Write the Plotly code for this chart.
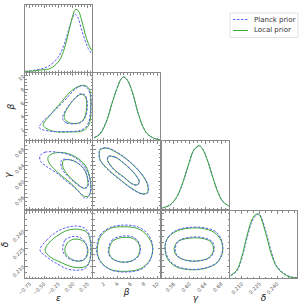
import plotly.graph_objects as go

# ---------------- data ----------------
var_names = ["ε", "β", "γ", "δ"]
var_ranges = [[-0.83, 0.33], [0.4, 10.4], [0.53, 0.70], [0.200, 0.257]]
eps_ticks = [-0.75, -0.50, -0.25, 0.00, 0.25]
eps_ticktext = ["−0.75", "−0.50", "−0.25", "0.00", "0.25"]
beta_ticks = [2, 4, 6, 8, 10]
beta_ticktext = ["2", "4", "6", "8", "10"]
gamma_ticks = [0.56, 0.60, 0.64, 0.68]
gamma_ticktext = ["0.56", "0.60", "0.64", "0.68"]
delta_ticks = [0.210, 0.225, 0.240]
delta_ticktext = ["0.210", "0.225", "0.240"]

series_names = ["Planck prior", "Local prior"]

# 1D marginals (relative density)
eps_1d_x = [-0.83, -0.686, -0.513, -0.398, -0.254, -0.167, -0.109, -0.052, 0.006, 0.035, 0.053, 0.093, 0.151, 0.209, 0.266, 0.324, 0.34]
eps_1d_planck = [0.01, 0.025, 0.055, 0.10, 0.225, 0.375, 0.525, 0.70, 0.835, 0.865, 0.855, 0.80, 0.625, 0.475, 0.35, 0.275, 0.26]
eps_1d_local = [0.005, 0.015, 0.035, 0.05, 0.15, 0.30, 0.475, 0.675, 0.865, 0.925, 0.935, 0.915, 0.775, 0.575, 0.425, 0.325, 0.31]

beta_1d_x = [0.55, 1.46, 2.47, 3.23, 3.99, 4.59, 4.99, 5.5, 6.26, 7.02, 7.78, 8.53, 9.54, 10.45]
beta_1d_planck = [0.035, 0.10, 0.30, 0.55, 0.775, 0.91, 0.94, 0.895, 0.715, 0.44, 0.212, 0.088, 0.025, 0.0]
beta_1d_local = [0.03, 0.09, 0.29, 0.545, 0.77, 0.91, 0.94, 0.90, 0.72, 0.445, 0.217, 0.09, 0.025, 0.0]

gamma_1d_x = [0.531, 0.551, 0.568, 0.585, 0.598, 0.611, 0.624, 0.632, 0.645, 0.658, 0.671, 0.684, 0.701]
gamma_1d_planck = [0.015, 0.06, 0.18, 0.42, 0.66, 0.865, 0.93, 0.895, 0.725, 0.485, 0.265, 0.115, 0.04]
gamma_1d_local = [0.015, 0.063, 0.185, 0.43, 0.67, 0.87, 0.93, 0.89, 0.72, 0.48, 0.26, 0.11, 0.04]

delta_1d_x = [0.2006, 0.2057, 0.2100, 0.2142, 0.2185, 0.2213, 0.2232, 0.2250, 0.2270, 0.2312, 0.2355, 0.2397, 0.2454, 0.2511, 0.2573]
delta_1d_planck = [0.035, 0.10, 0.29, 0.58, 0.835, 0.92, 0.95, 0.95, 0.89, 0.65, 0.37, 0.18, 0.075, 0.02, 0.005]
delta_1d_local = [0.04, 0.115, 0.315, 0.615, 0.865, 0.94, 0.955, 0.94, 0.865, 0.615, 0.34, 0.165, 0.065, 0.015, 0.005]

# 2D credible contours: (x, y) points, 95% and 68%
beta_eps_planck_95 = [(-0.582, 2.22), (-0.397, 1.71), (-0.109, 1.66), (0.122, 1.81), (0.249, 2.57), (0.307, 4.84), (0.307, 6.86), (0.237, 8.28), (0.151, 8.48), (0.036, 7.98), (-0.138, 6.36), (-0.340, 4.59), (-0.513, 3.23)]
beta_eps_local_95 = [(-0.513, 2.57), (-0.340, 1.71), (-0.051, 1.61), (0.180, 1.81), (0.284, 2.82), (0.307, 5.35), (0.284, 7.98), (0.209, 8.53), (0.122, 8.48), (-0.022, 7.77), (-0.195, 6.11), (-0.397, 4.09)]
beta_eps_planck_68 = [(-0.166, 3.33), (-0.109, 2.93), (0.007, 2.82), (0.151, 3.08), (0.226, 4.09), (0.249, 5.85), (0.209, 7.12), (0.122, 7.27), (0.007, 6.36), (-0.109, 5.10), (-0.178, 3.83)]
beta_eps_local_68 = [(-0.138, 3.43), (-0.051, 2.93), (0.093, 2.93), (0.191, 3.58), (0.237, 5.35), (0.214, 6.86), (0.139, 7.22), (0.036, 6.61), (-0.080, 5.35), (-0.149, 4.09)]

gamma_eps_planck_95 = [(-0.570, 0.663), (-0.484, 0.672), (-0.224, 0.671), (0.007, 0.661), (0.180, 0.640), (0.284, 0.611), (0.307, 0.578), (0.266, 0.560), (0.209, 0.557), (0.122, 0.570), (0.007, 0.586), (-0.109, 0.599), (-0.282, 0.620), (-0.455, 0.636), (-0.559, 0.649)]
gamma_eps_local_95 = [(-0.426, 0.661), (-0.340, 0.669), (-0.166, 0.671), (0.036, 0.661), (0.209, 0.640), (0.295, 0.607), (0.307, 0.574), (0.266, 0.562), (0.180, 0.563), (0.064, 0.580), (-0.051, 0.596), (-0.195, 0.613), (-0.340, 0.632), (-0.426, 0.649)]
gamma_eps_planck_68 = [(-0.195, 0.653), (-0.109, 0.654), (0.036, 0.649), (0.180, 0.632), (0.249, 0.611), (0.266, 0.591), (0.226, 0.582), (0.122, 0.586), (0.007, 0.599), (-0.109, 0.615), (-0.195, 0.632)]
gamma_eps_local_68 = [(-0.166, 0.651), (-0.051, 0.653), (0.093, 0.644), (0.209, 0.626), (0.255, 0.603), (0.249, 0.586), (0.180, 0.582), (0.093, 0.591), (-0.022, 0.605), (-0.120, 0.621), (-0.178, 0.638)]

gamma_beta_planck_95 = [(1.40, 0.679), (2.47, 0.683), (3.73, 0.674), (5.5, 0.654), (7.55, 0.620), (8.58, 0.591), (8.56, 0.570), (7.77, 0.567), (6.51, 0.577), (4.49, 0.602), (2.47, 0.631), (1.42, 0.653), (1.30, 0.669)]
gamma_beta_local_95 = [(1.46, 0.678), (2.47, 0.682), (3.73, 0.673), (5.5, 0.653), (7.52, 0.620), (8.53, 0.591), (8.53, 0.571), (7.77, 0.568), (6.51, 0.578), (4.49, 0.603), (2.47, 0.632), (1.46, 0.653), (1.36, 0.669)]
gamma_beta_planck_68 = [(2.68, 0.662), (3.73, 0.660), (5.0, 0.645), (6.55, 0.620), (7.32, 0.599), (7.05, 0.590), (6.26, 0.592), (5.0, 0.609), (3.73, 0.625), (2.84, 0.642), (2.54, 0.654)]
gamma_beta_local_68 = [(2.72, 0.661), (3.73, 0.659), (5.0, 0.644), (6.51, 0.620), (7.27, 0.599), (7.02, 0.591), (6.26, 0.593), (5.0, 0.610), (3.73, 0.626), (2.87, 0.643), (2.57, 0.654)]

delta_eps_planck_95 = [(-0.570, 0.2237), (-0.455, 0.2322), (-0.282, 0.2393), (-0.109, 0.2430), (0.064, 0.2442), (0.209, 0.2422), (0.295, 0.2351), (0.307, 0.2237), (0.284, 0.2137), (0.209, 0.2080), (0.064, 0.2066), (-0.109, 0.2080), (-0.282, 0.2123), (-0.455, 0.2180)]
delta_eps_local_95 = [(-0.484, 0.2237), (-0.397, 0.2308), (-0.253, 0.2365), (-0.080, 0.2408), (0.122, 0.2413), (0.249, 0.2385), (0.307, 0.2294), (0.307, 0.2180), (0.249, 0.2108), (0.122, 0.2088), (-0.051, 0.2100), (-0.224, 0.2137), (-0.397, 0.2180)]
delta_eps_planck_68 = [(-0.178, 0.2251), (-0.138, 0.2322), (-0.022, 0.2351), (0.122, 0.2345), (0.226, 0.2294), (0.249, 0.2222), (0.209, 0.2165), (0.093, 0.2145), (-0.051, 0.2160), (-0.149, 0.2200)]
delta_eps_local_68 = [(-0.138, 0.2251), (-0.080, 0.2308), (0.036, 0.2331), (0.168, 0.2316), (0.249, 0.2265), (0.249, 0.2194), (0.180, 0.2151), (0.053, 0.2145), (-0.068, 0.2174), (-0.132, 0.2214)]

delta_beta_planck_95 = [(0.96, 0.2265), (1.46, 0.2365), (2.98, 0.2430), (5.0, 0.2450), (7.02, 0.2436), (8.53, 0.2379), (9.29, 0.2279), (9.04, 0.2165), (7.77, 0.2080), (5.5, 0.2051), (3.23, 0.2066), (1.71, 0.2123), (1.06, 0.2194)]
delta_beta_local_95 = [(1.06, 0.2265), (1.56, 0.2356), (2.98, 0.2422), (5.0, 0.2436), (7.02, 0.2422), (8.43, 0.2365), (9.29, 0.2265), (8.93, 0.2157), (7.52, 0.2080), (5.25, 0.2057), (3.08, 0.2071), (1.71, 0.2128), (1.11, 0.2194)]
delta_beta_planck_68 = [(2.72, 0.2251), (3.23, 0.2322), (4.74, 0.2356), (6.51, 0.2345), (7.42, 0.2279), (7.27, 0.2194), (6.26, 0.2145), (4.49, 0.2137), (3.23, 0.2165), (2.72, 0.2208)]
delta_beta_local_68 = [(2.82, 0.2251), (3.38, 0.2316), (4.89, 0.2345), (6.51, 0.2333), (7.37, 0.2271), (7.17, 0.2194), (6.11, 0.2145), (4.49, 0.2137), (3.33, 0.2165), (2.82, 0.2208)]

delta_gamma_planck_95 = [(0.5377, 0.2265), (0.5463, 0.2351), (0.5678, 0.2408), (0.5979, 0.2430), (0.6365, 0.2428), (0.6666, 0.2393), (0.6812, 0.2322), (0.6838, 0.2237), (0.6709, 0.2137), (0.6408, 0.2086), (0.6022, 0.2074), (0.5678, 0.2100), (0.5463, 0.2165)]
delta_gamma_local_95 = [(0.5377, 0.2265), (0.5437, 0.2336), (0.5635, 0.2393), (0.5936, 0.2422), (0.6322, 0.2422), (0.6623, 0.2388), (0.6795, 0.2322), (0.6838, 0.2222), (0.6692, 0.2128), (0.6365, 0.2080), (0.5979, 0.2071), (0.5635, 0.2100), (0.5437, 0.2165)]
delta_gamma_planck_68 = [(0.5635, 0.2251), (0.5721, 0.2316), (0.5979, 0.2345), (0.6322, 0.2345), (0.6580, 0.2308), (0.6623, 0.2237), (0.6520, 0.2174), (0.6236, 0.2145), (0.5893, 0.2151), (0.5678, 0.2194)]
delta_gamma_local_68 = [(0.5609, 0.2251), (0.5695, 0.2308), (0.5936, 0.2336), (0.6279, 0.2339), (0.6537, 0.2308), (0.6606, 0.2237), (0.6494, 0.2174), (0.6193, 0.2145), (0.5850, 0.2157), (0.5661, 0.2194)]

# ---------------- styling / layout ----------------
W, H = 305, 303
COL_X = [(25, 92), (93, 160), (162, 229), (230, 297)]
ROW_Y = [(5, 72), (73, 140), (141, 209), (211, 278)]
BLUE = "#5c5cf7"
GREEN = "#3aaa35"
FRAME = "#8a8a8a"
TICKFONT = dict(family="DejaVu Sans", size=5, color="#555555")
TITLEFONT = dict(family="DejaVu Sans", size=9, color="#222222")

ticks_info = [(eps_ticks, eps_ticktext), (beta_ticks, beta_ticktext),
              (gamma_ticks, gamma_ticktext), (delta_ticks, delta_ticktext)]
minor_dticks = [0.05, 0.5, 0.01, 0.005]

diag_data = [
    (eps_1d_x, eps_1d_planck, eps_1d_local),
    (beta_1d_x, beta_1d_planck, beta_1d_local),
    (gamma_1d_x, gamma_1d_planck, gamma_1d_local),
    (delta_1d_x, delta_1d_planck, delta_1d_local),
]
offdiag_data = {
    (1, 0): (beta_eps_planck_95, beta_eps_planck_68, beta_eps_local_95, beta_eps_local_68),
    (2, 0): (gamma_eps_planck_95, gamma_eps_planck_68, gamma_eps_local_95, gamma_eps_local_68),
    (2, 1): (gamma_beta_planck_95, gamma_beta_planck_68, gamma_beta_local_95, gamma_beta_local_68),
    (3, 0): (delta_eps_planck_95, delta_eps_planck_68, delta_eps_local_95, delta_eps_local_68),
    (3, 1): (delta_beta_planck_95, delta_beta_planck_68, delta_beta_local_95, delta_beta_local_68),
    (3, 2): (delta_gamma_planck_95, delta_gamma_planck_68, delta_gamma_local_95, delta_gamma_local_68),
}

fig = go.Figure()
layout = {}
n = 0


def closed(pts):
    xs = [p[0] for p in pts] + [pts[0][0]]
    ys = [p[1] for p in pts] + [pts[0][1]]
    return xs, ys


def line_style(which):
    if which == 0:
        return dict(color=BLUE, width=1, dash="2.5px,1.5px")
    return dict(color=GREEN, width=1)


for r in range(4):
    for c in range(r + 1):
        n += 1
        sfx = "" if n == 1 else str(n)
        xref, yref = "x" + sfx, "y" + sfx
        x0, x1 = COL_X[c]
        y0, y1 = ROW_Y[r]
        tv, tt = ticks_info[c]
        xa = dict(domain=[x0 / W, x1 / W], range=var_ranges[c], anchor=yref,
                  showgrid=False, zeroline=False, showline=True, linecolor=FRAME,
                  linewidth=1, mirror="allticks", ticks="inside", ticklen=2.5,
                  tickcolor=FRAME, tickwidth=0.6, tickvals=tv, ticktext=tt,
                  showticklabels=(r == 3), tickangle=-45, tickfont=TICKFONT,
                  automargin=False,
                  minor=dict(ticks="inside", ticklen=1.5, dtick=minor_dticks[c],
                             tickcolor=FRAME, tickwidth=0.5))
        if r == 3:
            xa["title"] = dict(text="<i>" + var_names[c] + "</i>", font=TITLEFONT, standoff=0)
        if r == c:
            ya = dict(domain=[1 - y1 / H, 1 - y0 / H], range=[0, 1.0], anchor=xref,
                      showgrid=False, zeroline=False, showline=True, linecolor=FRAME,
                      linewidth=1, mirror=True, ticks="", showticklabels=False,
                      automargin=False)
        else:
            tvy, tty = ticks_info[r]
            ya = dict(domain=[1 - y1 / H, 1 - y0 / H], range=var_ranges[r], anchor=xref,
                      showgrid=False, zeroline=False, showline=True, linecolor=FRAME,
                      linewidth=1, mirror="allticks", ticks="inside", ticklen=2.5,
                      tickcolor=FRAME, tickwidth=0.6, tickvals=tvy, ticktext=tty,
                      showticklabels=(c == 0), tickangle=-45, tickfont=TICKFONT,
                      automargin=False,
                      minor=dict(ticks="inside", ticklen=1.5, dtick=minor_dticks[r],
                                 tickcolor=FRAME, tickwidth=0.5))
            if c == 0:
                ya["title"] = dict(text="<i>" + var_names[r] + "</i>", font=TITLEFONT, standoff=0)
        layout["xaxis" + sfx] = xa
        layout["yaxis" + sfx] = ya

        if r == c:
            xs, yp, yl = diag_data[r]
            fig.add_trace(go.Scatter(x=xs, y=yp, mode="lines", line=dict(line_style(0), shape="spline"),
                                     xaxis=xref, yaxis=yref, name=series_names[0],
                                     showlegend=False, hoverinfo="skip"))
            fig.add_trace(go.Scatter(x=xs, y=yl, mode="lines", line=dict(line_style(1), shape="spline"),
                                     xaxis=xref, yaxis=yref, name=series_names[1],
                                     showlegend=False, hoverinfo="skip"))
        else:
            p95, p68, l95, l68 = offdiag_data[(r, c)]
            for which, curves in ((1, (l95, l68)), (0, (p95, p68))):
                for pts in curves:
                    xs, ys = closed(pts)
                    fig.add_trace(go.Scatter(x=xs, y=ys, mode="lines",
                                             line=dict(line_style(which), shape="spline", smoothing=1.0),
                                             xaxis=xref, yaxis=yref, name=series_names[which],
                                             showlegend=False, hoverinfo="skip"))


# hand-drawn legend box (paper coordinates)
def px(x):
    return x / W


def py(y):
    return 1 - y / H


shapes = [
    dict(type="rect", xref="paper", yref="paper", x0=px(230), x1=px(298), y0=py(37.5), y1=py(13),
         line=dict(color="#dcdcdc", width=0.8), fillcolor="white", layer="above"),
    dict(type="line", xref="paper", yref="paper", x0=px(233), x1=px(248), y0=py(19.5), y1=py(19.5),
         line=dict(color=BLUE, width=1, dash="2.5px,1.5px"), layer="above"),
    dict(type="line", xref="paper", yref="paper", x0=px(233), x1=px(248), y0=py(30.5), y1=py(30.5),
         line=dict(color=GREEN, width=1), layer="above"),
]
annotations = [
    dict(xref="paper", yref="paper", x=px(252), y=py(19.5), text=series_names[0], showarrow=False,
         xanchor="left", yanchor="middle", font=dict(family="DejaVu Sans", size=7, color="#333333")),
    dict(xref="paper", yref="paper", x=px(252), y=py(30.5), text=series_names[1], showarrow=False,
         xanchor="left", yanchor="middle", font=dict(family="DejaVu Sans", size=7, color="#333333")),
]

fig.update_layout(**layout)
fig.update_layout(
    width=W, height=H, margin=dict(l=0, r=0, t=0, b=0, autoexpand=False),
    paper_bgcolor="white", plot_bgcolor="white",
    showlegend=False, shapes=shapes, annotations=annotations,
)
fig.write_html("out.html", config=dict(responsive=False, displayModeBar=False),
               post_script="document.body.style.margin='0';document.body.style.padding='0';"
                           "document.documentElement.style.overflow='hidden';")
